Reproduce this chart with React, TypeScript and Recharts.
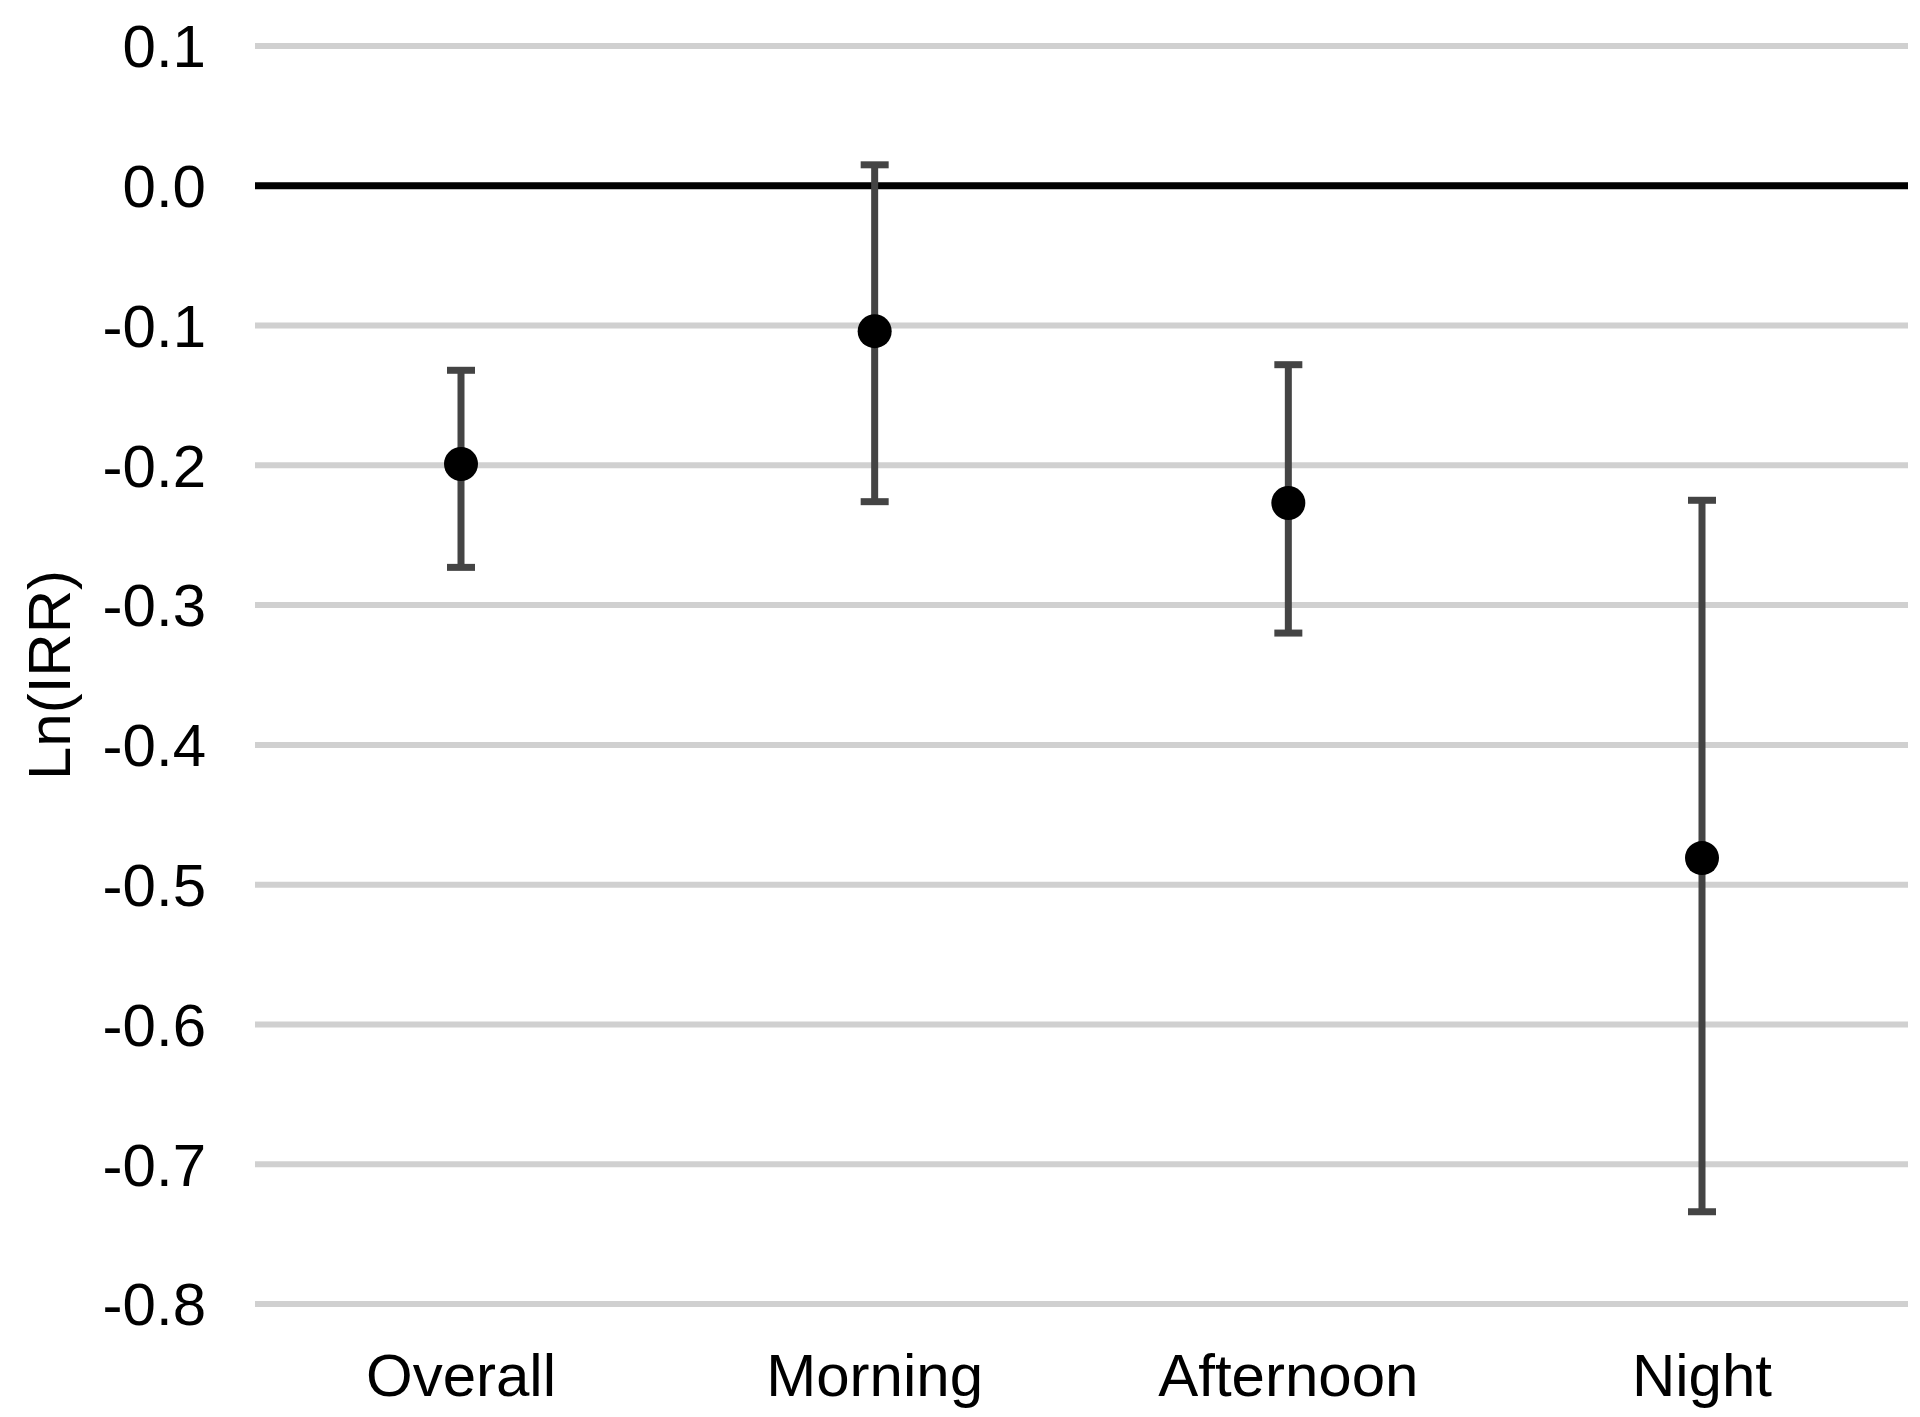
import {
  ComposedChart,
  Scatter,
  ErrorBar,
  XAxis,
  YAxis,
  CartesianGrid,
  ReferenceLine,
} from "recharts";

const categories = ["Overall", "Morning", "Afternoon", "Night"];
const estimates = [-0.199, -0.104, -0.227, -0.481];
const lower = [-0.273, -0.226, -0.32, -0.734];
const upper = [-0.132, 0.015, -0.128, -0.225];
const yTicks = [-0.8, -0.7, -0.6, -0.5, -0.4, -0.3, -0.2, -0.1, 0, 0.1];

const FONT = "'Liberation Sans', Arial, Helvetica, sans-serif";

export default function App() {
  // asymmetric error = [below, above]
  const data = categories.map((name, i) => ({
    name,
    est: estimates[i],
    err: [estimates[i] - lower[i], upper[i] - estimates[i]],
  }));

  return (
    <div style={{ position: "absolute", left: 0, top: 0, background: "#fff" }}>
      <ComposedChart
        width={1920}
        height={1417}
        data={data}
        margin={{ top: 46, right: 12, left: 0, bottom: 0 }}
      >
        <CartesianGrid vertical={false} stroke="#d0d0d0" strokeWidth={6} />
        <XAxis
          dataKey="name"
          type="category"
          axisLine={false}
          tickLine={false}
          height={113}
          tickSize={0}
          tickMargin={49}
          padding={{ left: 206, right: 206 }}
          tick={{ fill: "#000", fontSize: 60, fontFamily: FONT }}
        />
        <YAxis
          type="number"
          domain={[-0.8, 0.1]}
          ticks={yTicks}
          interval={0}
          width={255}
          axisLine={false}
          tickLine={false}
          tickSize={0}
          tickMargin={49}
          tickFormatter={(v: number) => v.toFixed(1)}
          tick={{ fill: "#000", fontSize: 60, fontFamily: FONT }}
          label={{
            content: () => (
              <text
                x={49}
                y={675}
                transform="rotate(-90, 49, 675)"
                textAnchor="middle"
                dominantBaseline="central"
                fontSize={60}
                fontFamily={FONT}
                fill="#000"
              >
                Ln(IRR)
              </text>
            ),
          }}
        />
        <ReferenceLine y={0} stroke="#000" strokeWidth={7} />
        <Scatter
          dataKey="est"
          fill="#000"
          isAnimationActive={false}
          shape={(props: any) => (
            <circle cx={props.cx} cy={props.cy} r={17} fill="#000" />
          )}
        >
          <ErrorBar
            dataKey="err"
            direction="y"
            width={14}
            stroke="#444444"
            strokeWidth={7}
            isAnimationActive={false}
          />
        </Scatter>
      </ComposedChart>
    </div>
  );
}
